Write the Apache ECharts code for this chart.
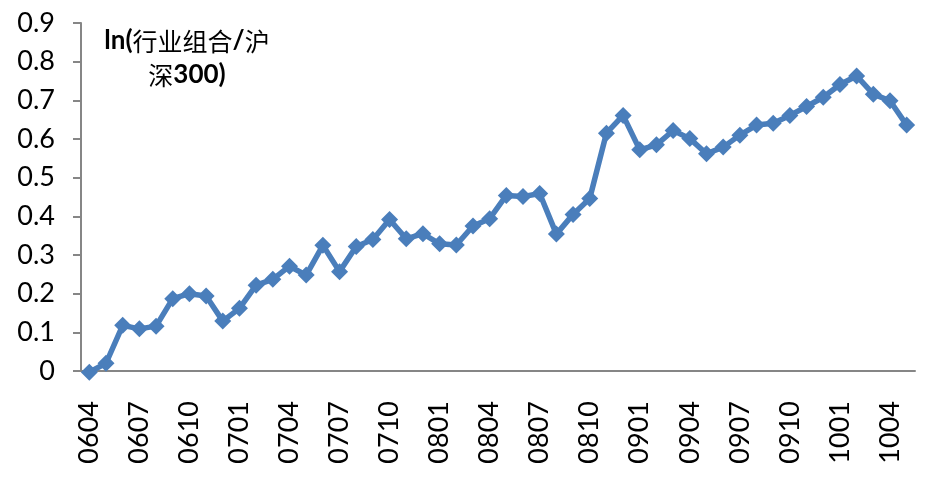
<!DOCTYPE html>
<html><head><meta charset="utf-8">
<script src="https://cdn.jsdelivr.net/npm/echarts@6/dist/echarts.min.js"></script>
<style>html,body{margin:0;padding:0;background:#fff}#c{width:927px;height:477px}</style>
</head><body><div id="c"></div>
<script>
const categories = ['0604','0605','0606','0607','0608','0609','0610','0611','0612',
  '0701','0702','0703','0704','0705','0706','0707','0708','0709','0710','0711','0712',
  '0801','0802','0803','0804','0805','0806','0807','0808','0809','0810','0811','0812',
  '0901','0902','0903','0904','0905','0906','0907','0908','0909','0910','0911','0912',
  '1001','1002','1003','1004','1005'];
const values = [-0.003,0.02,0.118,0.109,0.116,0.187,0.2,0.194,0.129,
  0.162,0.222,0.237,0.271,0.248,0.325,0.257,0.322,0.34,0.392,0.342,0.355,
  0.329,0.326,0.375,0.394,0.454,0.451,0.459,0.354,0.405,0.446,0.615,0.661,
  0.572,0.585,0.622,0.601,0.562,0.579,0.61,0.636,0.641,0.661,0.684,0.708,
  0.741,0.763,0.716,0.699,0.636];
const yTicks = {min: 0, max: 0.9, step: 0.1};

const chart = echarts.init(document.getElementById('c'));
chart.setOption({
  animation: false,
  grid: {left: 81, right: 12, top: 23, bottom: 106},
  graphic: [{
    type: 'text', x: 187, y: 24,
    style: {
      text: '{b|ln(}{n|行业组合}{b|/}{n|沪}\n{n|深}{b|300)}',
      align: 'center', verticalAlign: 'top',
      rich: {
        b: {fontFamily: 'Lato', fontWeight: 'bold', fontSize: 26, lineHeight: 34, fill: '#000', color: '#000'},
        n: {fontFamily: 'Noto Sans CJK SC', fontWeight: 'normal', fontSize: 25, lineHeight: 34, fill: '#000', color: '#000'}
      }
    }
  }],
  xAxis: {
    type: 'category', data: categories, boundaryGap: true,
    axisLine: {lineStyle: {color: '#868686', width: 2}},
    axisTick: {interval: 0, length: 10, lineStyle: {color: '#868686', width: 2}},
    axisLabel: {interval: 2, rotate: 90, margin: 30, color: '#000', fontFamily: 'Lato', fontSize: 27}
  },
  yAxis: {
    type: 'value', min: yTicks.min, max: yTicks.max, interval: yTicks.step,
    splitLine: {show: false},
    axisLine: {show: true, lineStyle: {color: '#868686', width: 2}},
    axisTick: {show: true, length: 8, lineStyle: {color: '#868686', width: 2}},
    axisLabel: {color: '#000', fontFamily: 'Lato', fontSize: 27, margin: 26,
      formatter: v => (Math.round(v * 10) / 10).toString()}
  },
  series: [{
    type: 'line', data: values, clip: false, z: 5,
    symbol: 'diamond', symbolSize: 17, showAllSymbol: true,
    lineStyle: {color: '#4a7ebb', width: 5.5},
    itemStyle: {color: '#4a7ebb'}
  }]
});
</script></body></html>
